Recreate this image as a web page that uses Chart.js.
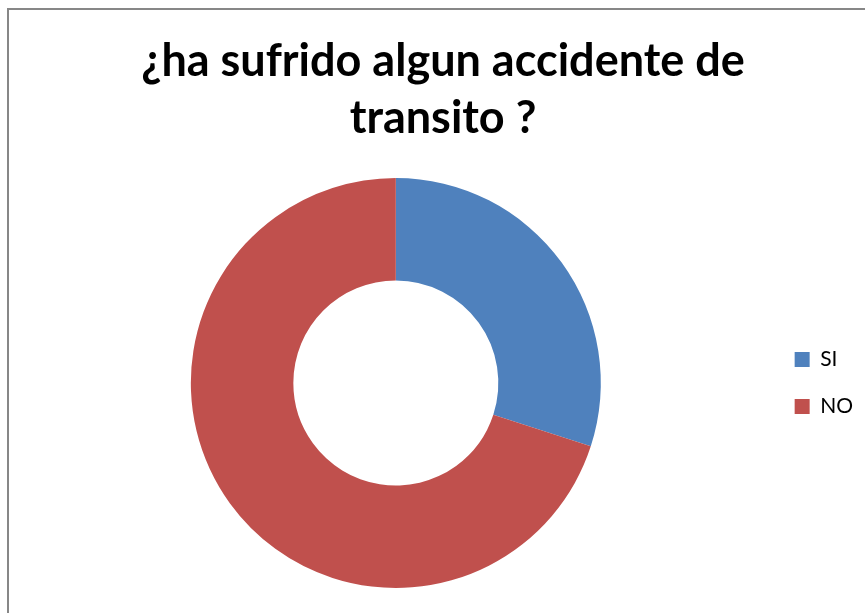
<!DOCTYPE html>
<html>
<head>
<meta charset="utf-8">
<script src="https://cdn.jsdelivr.net/npm/chart.js@4/dist/chart.umd.min.js"></script>
<style>
  html, body { margin: 0; padding: 0; background: #fff; overflow: hidden; }
  #frame {
    position: absolute; left: 7px; top: 8px; width: 900px; height: 700px;
    border: 2px solid #878787; box-sizing: border-box;
  }
  #chart { position: absolute; left: 0; top: 0; }
</style>
</head>
<body>
<div id="frame"></div>
<canvas id="chart" width="865" height="613"></canvas>
<script>
// Chart data
const titleLines = ['¿ha sufrido algun accidente de', 'transito ?'];
const categories = ['SI', 'NO'];
const values = [30, 70];
const sliceColors = ['#4F81BD', '#C0504D'];

const ctx = document.getElementById('chart').getContext('2d');
new Chart(ctx, {
    type: 'doughnut',
    data: {
        labels: categories,
        datasets: [{
            data: values,
            backgroundColor: sliceColors,
            borderWidth: 0
        }]
    },
    options: {
        responsive: false,
        animation: false,
        cutout: '50%',
        layout: {
            padding: { left: 23, right: 2, top: 10, bottom: 25 }
        },
        plugins: {
            title: {
                display: true,
                text: titleLines,
                color: '#000',
                font: { family: 'Lato', size: 45, weight: 'bold', lineHeight: 1.267 },
                padding: { top: 23, bottom: 31 }
            },
            legend: {
                position: 'right',
                fullSize: false,
                labels: {
                    color: '#000',
                    boxWidth: 15,
                    boxHeight: 15,
                    padding: 26,
                    font: { family: 'Lato', size: 21 }
                }
            },
            tooltip: { enabled: false }
        }
    }
});
</script>
</body>
</html>
